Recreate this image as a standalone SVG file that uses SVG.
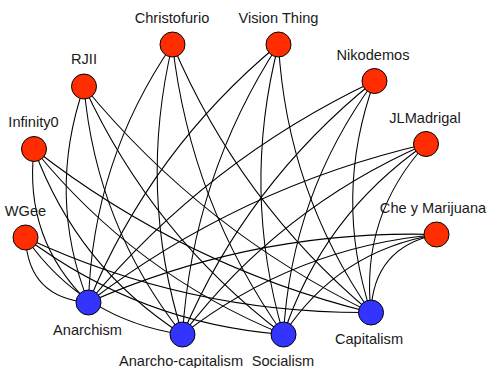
<svg xmlns="http://www.w3.org/2000/svg" width="488" height="368" viewBox="0 0 488 368">
<style>
.e{fill:none;stroke:#000;stroke-width:1.05}
.r{fill:#ff2d00;stroke:#000;stroke-width:1}
.b{fill:#3434ff;stroke:#000;stroke-width:1}
text{font-family:"Liberation Sans",Arial,sans-serif;font-size:14.6px;fill:#1a1a1a;text-anchor:middle}
</style>
<rect width="488" height="368" fill="#fff"/>
<g id="edges">
<path class="e" d="M25.5,237.5 C27.3,277.8 48.3,299.4 88.5,302.5"/>
<path class="e" d="M25.5,237.5 C63.8,292.5 116.2,324.9 182.5,334.5"/>
<path class="e" d="M25.5,237.5 C102.1,294.8 188.1,327.2 283.5,334.5"/>
<path class="e" d="M25.5,237.5 C135,288.6 250.1,313.6 371,312.5"/>
<path class="e" d="M34,149 C27,209.1 45.1,260.2 88.5,302.5"/>
<path class="e" d="M34,149 C62.7,227.5 112.2,289.4 182.5,334.5"/>
<path class="e" d="M34,149 C101.3,232.2 184.4,294.1 283.5,334.5"/>
<path class="e" d="M34,149 C134.6,227.5 247,282 371,312.5"/>
<path class="e" d="M84,86.5 C58.8,159.1 60.3,231.1 88.5,302.5"/>
<path class="e" d="M84,86.5 C92,179.1 124.9,261.7 182.5,334.5"/>
<path class="e" d="M84,86.5 C129.7,185.9 196.2,268.5 283.5,334.5"/>
<path class="e" d="M84,86.5 C163.2,182.8 258.8,258.2 371,312.5"/>
<path class="e" d="M172.5,44.5 C119.1,122.2 91.1,208.2 88.5,302.5"/>
<path class="e" d="M172.5,44.5 C149.1,142.1 152.5,238.7 182.5,334.5"/>
<path class="e" d="M172.5,44.5 C184.6,150.7 221.6,247.3 283.5,334.5"/>
<path class="e" d="M172.5,44.5 C217.2,149.7 283.3,239.1 371,312.5"/>
<path class="e" d="M278.5,44.5 C193.7,114.7 130.3,200.7 88.5,302.5"/>
<path class="e" d="M278.5,44.5 C221.2,132.8 189.2,229.4 182.5,334.5"/>
<path class="e" d="M278.5,44.5 C253.5,141.7 255.1,238.3 283.5,334.5"/>
<path class="e" d="M278.5,44.5 C284.1,142.5 315,231.9 371,312.5"/>
<path class="e" d="M374.5,81 C262.9,133.7 167.5,207.6 88.5,302.5"/>
<path class="e" d="M374.5,81 C289.2,149.4 225.2,233.9 182.5,334.5"/>
<path class="e" d="M374.5,81 C319.1,156.5 288.7,241 283.5,334.5"/>
<path class="e" d="M374.5,81 C346.6,157.8 345.5,234.9 371,312.5"/>
<path class="e" d="M426,144 C302.2,172.6 189.7,225.5 88.5,302.5"/>
<path class="e" d="M426,144 C328.3,186.5 247.2,250 182.5,334.5"/>
<path class="e" d="M426,144 C357.1,191.5 309.6,255 283.5,334.5"/>
<path class="e" d="M426,144 C382.3,191.9 363.9,248 371,312.5"/>
<path class="e" d="M436.5,234.5 C315.4,231 199.4,253.6 88.5,302.5"/>
<path class="e" d="M436.5,234.5 C342,243 257.4,276.4 182.5,334.5"/>
<path class="e" d="M436.5,234.5 C370.9,245.4 319.9,278.8 283.5,334.5"/>
<path class="e" d="M436.5,234.5 C394.3,243.3 372.4,269.3 371,312.5"/>
</g>
<g id="WGee"><circle class="r" cx="25.5" cy="237.5" r="12.5"/><text x="25.5" y="216">WGee</text></g>
<g id="Infinity0"><circle class="r" cx="34" cy="149" r="12.5"/><text x="33.5" y="127">Infinity0</text></g>
<g id="RJII"><circle class="r" cx="84" cy="86.5" r="12.5"/><text x="84" y="63.5">RJII</text></g>
<g id="Christofurio"><circle class="r" cx="172.5" cy="44.5" r="12.5"/><text x="172" y="22.5">Christofurio</text></g>
<g id="VisionThing"><circle class="r" cx="278.5" cy="44.5" r="12.5"/><text x="278.5" y="22.5">Vision Thing</text></g>
<g id="Nikodemos"><circle class="r" cx="374.5" cy="81" r="12.5"/><text x="373" y="59.5">Nikodemos</text></g>
<g id="JLMadrigal"><circle class="r" cx="426" cy="144" r="12.5"/><text x="425" y="122.5">JLMadrigal</text></g>
<g id="CheyMarijuana"><circle class="r" cx="436.5" cy="234.5" r="12.5"/><text x="433" y="212.5">Che y Marijuana</text></g>
<g id="Anarchism"><circle class="b" cx="88.5" cy="302.5" r="12.5"/><text x="87.5" y="334.5">Anarchism</text></g>
<g id="Anarcho-capitalism"><circle class="b" cx="182.5" cy="334.5" r="12.5"/><text x="181" y="366">Anarcho-capitalism</text></g>
<g id="Socialism"><circle class="b" cx="283.5" cy="334.5" r="12.5"/><text x="283" y="366">Socialism</text></g>
<g id="Capitalism"><circle class="b" cx="371" cy="312.5" r="12.5"/><text x="369" y="344">Capitalism</text></g>
</svg>
